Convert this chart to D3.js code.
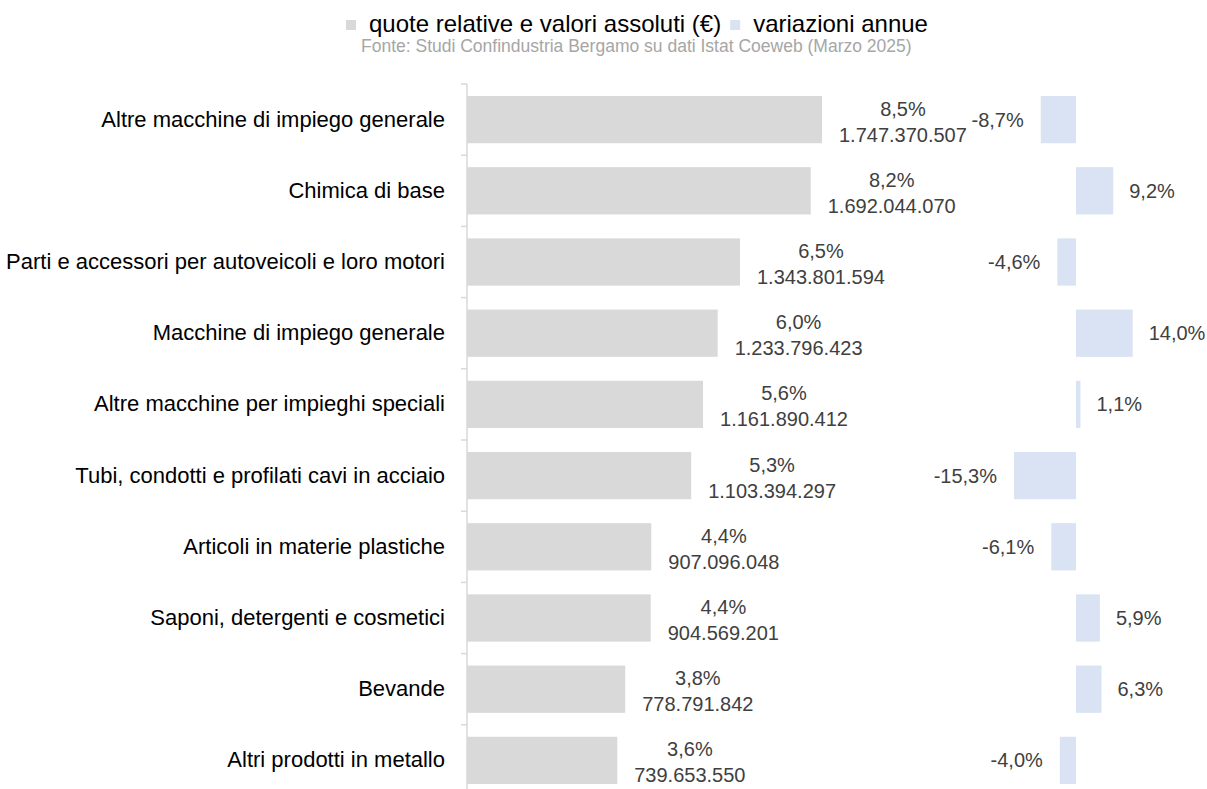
<!DOCTYPE html>
<html>
<head>
<meta charset="utf-8">
<script src="https://d3js.org/d3.v7.min.js"></script>
<style>
  body { margin: 0; background: #fff; }
  svg text { font-family: "Liberation Sans", Arial, sans-serif; }
</style>
</head>
<body>
<svg width="1207" height="789"></svg>
<script>
var categories = [
  "Altre macchine di impiego generale",
  "Chimica di base",
  "Parti e accessori per autoveicoli e loro motori",
  "Macchine di impiego generale",
  "Altre macchine per impieghi speciali",
  "Tubi, condotti e profilati cavi in acciaio",
  "Articoli in materie plastiche",
  "Saponi, detergenti e cosmetici",
  "Bevande",
  "Altri prodotti in metallo"
];
var values = [1747370507, 1692044070, 1343801594, 1233796423, 1161890412,
              1103394297, 907096048, 904569201, 778791842, 739653550];
var shares = [8.5, 8.2, 6.5, 6.0, 5.6, 5.3, 4.4, 4.4, 3.8, 3.6];
var changes = [-8.7, 9.2, -4.6, 14.0, 1.1, -15.3, -6.1, 5.9, 6.3, -4.0];
var legendLabels = ["quote relative e valori assoluti (€)", "variazioni annue"];
var source = "Fonte: Studi Confindustria Bergamo su dati Istat Coeweb (Marzo 2025)";

var svg = d3.select("svg");
var barColor = "#d9d9d9", varColor = "#dae3f3", labelColor = "#404040";

var y = d3.scaleBand().domain(categories).range([84, 796]).paddingInner(0.336).paddingOuter(0.168);
var x = d3.scaleLinear().domain([0, 2000000000]).range([467, 873.3]);
var xv = d3.scaleLinear().domain([-20, 20]).range([995, 1157]);

var itNum = d3.formatLocale({decimal: ",", thousands: ".", grouping: [3], currency: ["", "€"], minus: "-"});
var fmtInt = itNum.format(",d");
var fmtPct = itNum.format(".1f");

// legend
var leg = svg.append("g");
leg.append("rect").attr("x", 346).attr("y", 20).attr("width", 10).attr("height", 10).attr("fill", barColor);
var t1 = leg.append("text").attr("x", 369).attr("y", 32).style("font-size", "24px").attr("fill", "#000").text(legendLabels[0]);
var w1 = t1.node().getComputedTextLength();
leg.append("rect").attr("x", 369 + w1 + 9).attr("y", 20).attr("width", 10).attr("height", 10).attr("fill", varColor);
leg.append("text").attr("x", 369 + w1 + 32).attr("y", 32).style("font-size", "24px").attr("fill", "#000").text(legendLabels[1]);

svg.append("text").attr("x", 361).attr("y", 52)
  .style("font-size", "17.5px").attr("fill", "#a6a6a6").text(source);

// bars
svg.append("g").selectAll("rect").data(values).enter().append("rect")
  .attr("x", x(0))
  .attr("y", function (d, i) { return y(categories[i]); })
  .attr("width", function (d) { return x(d) - x(0); })
  .attr("height", y.bandwidth())
  .attr("fill", barColor);

// variation bars
svg.append("g").selectAll("rect").data(changes).enter().append("rect")
  .attr("x", function (d) { return xv(Math.min(0, d)); })
  .attr("y", function (d, i) { return y(categories[i]); })
  .attr("width", function (d) { return Math.abs(xv(d) - xv(0)); })
  .attr("height", y.bandwidth())
  .attr("fill", varColor);

// axis line with ticks at band edges
var axis = svg.append("g");
axis.append("line").attr("x1", 467).attr("x2", 467).attr("y1", 84).attr("y2", 796)
  .attr("stroke", barColor).attr("stroke-width", 1.5);
d3.range(categories.length + 1).forEach(function (i) {
  var yy = 84 + i * y.step();
  axis.append("line").attr("x1", 461).attr("x2", 467).attr("y1", yy).attr("y2", yy)
    .attr("stroke", barColor).attr("stroke-width", 1.5);
});

// category labels
var cat = svg.append("g").attr("transform", "translate(467,0)")
  .call(d3.axisLeft(y).tickSize(0).tickPadding(22));
cat.select(".domain").remove();
cat.selectAll("text").style("font-size", "22px").attr("fill", "#000")
  .style("font-family", "'Liberation Sans', Arial, sans-serif");

// value labels (two lines)
var lab = svg.append("g").selectAll("g").data(values).enter().append("g");
lab.each(function (d, i) {
  var g = d3.select(this);
  var cy = y(categories[i]) + y.bandwidth() / 2;
  var l2 = g.append("text").attr("y", cy + 22).style("font-size", "20px").attr("fill", labelColor)
    .attr("text-anchor", "middle").text(fmtInt(d));
  var w = l2.node().getComputedTextLength();
  var cx = x(d) + 17 + w / 2;
  l2.attr("x", cx);
  g.append("text").attr("x", cx).attr("y", cy - 4).style("font-size", "20px").attr("fill", labelColor)
    .attr("text-anchor", "middle").text(fmtPct(shares[i]) + "%");
});

// variation labels
svg.append("g").selectAll("text").data(changes).enter().append("text")
  .attr("x", function (d) { return d < 0 ? xv(d) - 17 : xv(d) + 16; })
  .attr("y", function (d, i) { return y(categories[i]) + y.bandwidth() / 2 + 7; })
  .attr("text-anchor", function (d) { return d < 0 ? "end" : "start"; })
  .style("font-size", "20px").attr("fill", labelColor)
  .text(function (d) { return fmtPct(d) + "%"; });
</script>
</body>
</html>
